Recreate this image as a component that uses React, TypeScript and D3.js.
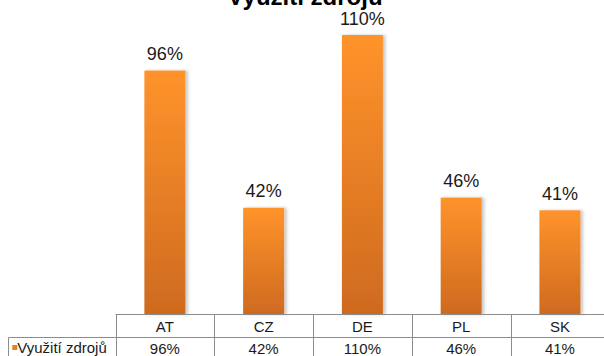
import React from "react";
import * as d3 from "d3";

const title = "Využití zdrojů";
const seriesName = "Využití zdrojů";
const categories = ["AT", "CZ", "DE", "PL", "SK"];
const values = [96, 42, 110, 46, 41];
const valueLabels = ["96%", "42%", "110%", "46%", "41%"];

const W = 604;
const H = 356;
const FONT = "'Liberation Sans', Arial, sans-serif";

export default function App() {
  const x = d3.scaleBand<string>().domain(categories).range([115.5, 609.3]).padding(0);
  const y = d3.scaleLinear().domain([0, 110]).range([314.5, 35]);
  const barW = 41;
  const tableTop = 314.5;
  const rowDiv = 337.5;
  const lineColor = "#8c8c8c";

  return (
    <svg
      width={W}
      height={H}
      style={{ position: "absolute", left: 0, top: 0, display: "block", background: "#fff" }}
      fontFamily={FONT}
    >
      <defs>
        <linearGradient id="barGrad" x1="0" y1="0" x2="0" y2="1">
          <stop offset="0" stopColor="#FF932B" />
          <stop offset="1" stopColor="#CE6A1F" />
        </linearGradient>
        <filter id="shadow" x="-20%" y="-5%" width="150%" height="110%">
          <feDropShadow dx="2.5" dy="0" stdDeviation="1.5" floodColor="#000" floodOpacity="0.22" />
        </filter>
      </defs>

      <text x={305} y={5} textAnchor="middle" fontSize={24} fontWeight="bold" fill="#000">
        {title}
      </text>

      {categories.map((c, i) => {
        const cx = (x(c) as number) + x.bandwidth() / 2;
        const top = y(values[i]);
        return (
          <g key={c}>
            <rect
              x={cx - barW / 2}
              y={top}
              width={barW}
              height={y(0) - top}
              fill="url(#barGrad)"
              filter="url(#shadow)"
            />
            <text x={cx} y={top - 10.5} textAnchor="middle" fontSize={18} fill="#1a1a1a">
              {valueLabels[i]}
            </text>
          </g>
        );
      })}

      <line x1={115.5} x2={W} y1={tableTop} y2={tableTop} stroke={lineColor} strokeWidth={1} />
      <line x1={8.5} x2={W} y1={rowDiv} y2={rowDiv} stroke={lineColor} strokeWidth={1} />
      <line x1={8.5} x2={8.5} y1={rowDiv} y2={H} stroke={lineColor} strokeWidth={1} />
      {categories.map((c) => {
        const lx = Math.round(x(c) as number) + 0.5;
        return <line key={"v" + c} x1={lx} x2={lx} y1={tableTop} y2={H} stroke={lineColor} strokeWidth={1} />;
      })}

      {categories.map((c, i) => {
        const cx = (x(c) as number) + x.bandwidth() / 2;
        return (
          <g key={"t" + c}>
            <text x={cx} y={331.5} textAnchor="middle" fontSize={15} fill="#1a1a1a">
              {c}
            </text>
            <text x={cx} y={354} textAnchor="middle" fontSize={15} fill="#1a1a1a">
              {valueLabels[i]}
            </text>
          </g>
        );
      })}

      <rect x={12.3} y={345} width={5} height={5} fill="#E8821F" />
      <text x={17.3} y={353} fontSize={15} fill="#1a1a1a">
        {seriesName}
      </text>
    </svg>
  );
}
